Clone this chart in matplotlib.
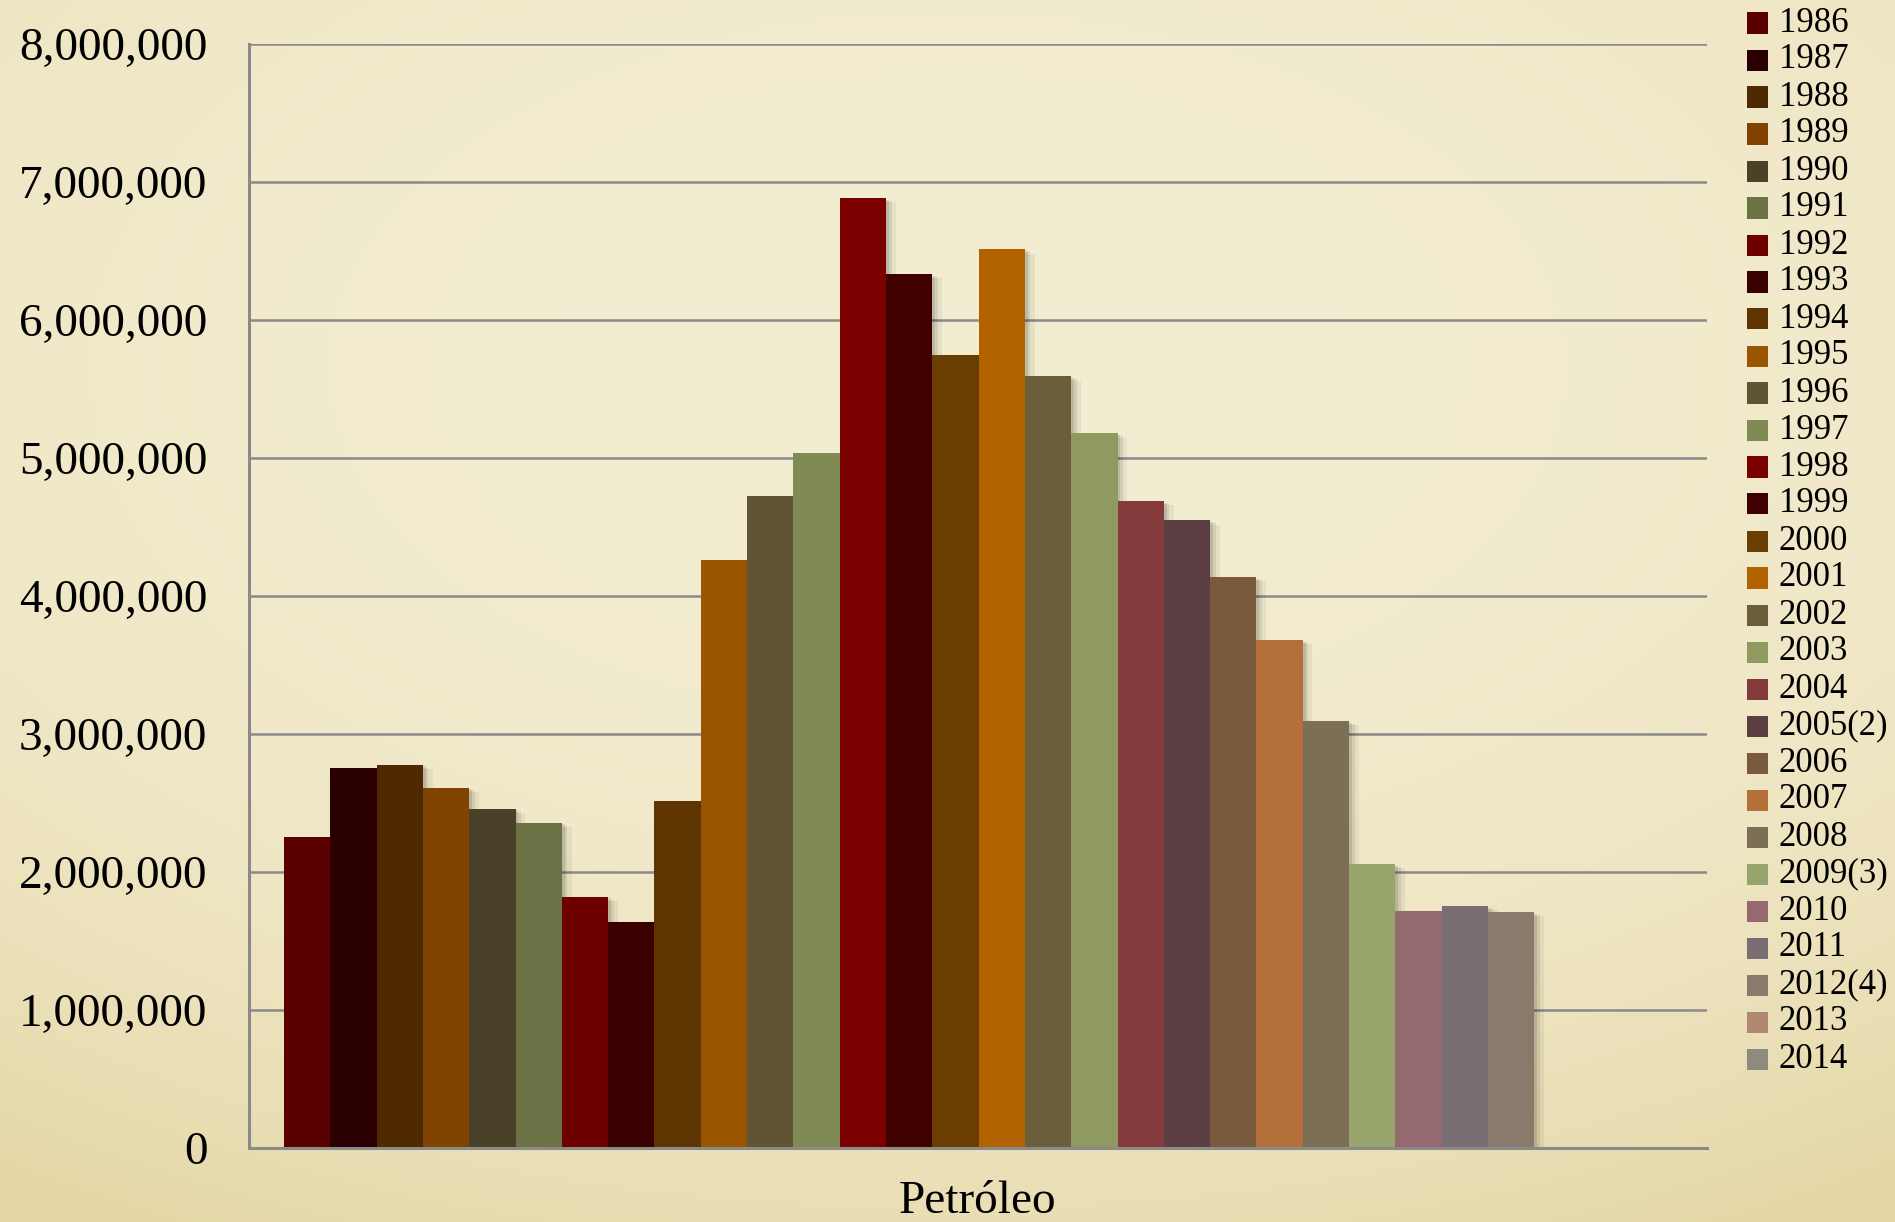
import numpy as np
import matplotlib
matplotlib.use("Agg")
import matplotlib.pyplot as plt
from matplotlib import patheffects as pe
from matplotlib.patches import Rectangle
from matplotlib.ticker import FuncFormatter

# data
years = ["1986", "1987", "1988", "1989", "1990", "1991", "1992", "1993", "1994",
         "1995", "1996", "1997", "1998", "1999", "2000", "2001", "2002", "2003",
         "2004", "2005(2)", "2006", "2007", "2008", "2009(3)", "2010", "2011",
         "2012(4)", "2013", "2014"]
values = [2255000, 2756000, 2777000, 2611000, 2458000, 2357000, 1820000, 1639000,
          2516000, 4259000, 4722000, 5034000, 6882000, 6331000, 5743000, 6512000,
          5591000, 5178000, 4686000, 4548000, 4136000, 3679000, 3092000, 2056000,
          1716000, 1752000, 1709000, np.nan, np.nan]
colors = ["#5a0000", "#2a0000", "#4f2a00", "#804300", "#4a4228", "#6b7346",
          "#6e0000", "#3a0000", "#5e3500", "#9a5500", "#5f5534", "#7f8a55",
          "#7a0000", "#400000", "#6a3d00", "#b36200", "#6b5e3a", "#8e9a5f",
          "#853a3c", "#5a3e42", "#7a5a3c", "#b5703a", "#7b7055", "#97a46c",
          "#946970", "#786e74", "#8a7a6c", "#b08872", "#8e8a80"]
category = "Petróleo"
y_ticks = [0, 1000000, 2000000, 3000000, 4000000, 5000000, 6000000, 7000000, 8000000]

plt.rcParams['font.family'] = ['Liberation Serif', 'DejaVu Serif']

W, H = 1895, 1222
fig = plt.figure(figsize=(W / 100, H / 100), dpi=100)

# parchment-like background
bg = fig.add_axes([0, 0, 1, 1])
ny, nx = 244, 379
yy, xx = np.mgrid[0:1:ny * 1j, 0:1:nx * 1j]
t = ((xx - 0.5) / 0.9) ** 2 + ((yy - 0.3) / 0.8) ** 2
t = np.clip(t, 0, 1) ** 1.3
light = np.array([243, 237, 209]) / 255
dark = np.array([229, 215, 167]) / 255
img = light[None, None, :] * (1 - t[..., None]) + dark[None, None, :] * t[..., None]
bg.imshow(img, extent=[0, 1, 0, 1], aspect='auto', interpolation='bilinear')
bg.set_axis_off()

ax = fig.add_axes([249 / W, (H - 1148) / H, (1707 - 249) / W, (1148 - 44) / H])
ax.patch.set_alpha(0)

x = np.arange(len(years))
bars = ax.bar(x, values, width=1.0, color=colors, zorder=3)
for b in bars:
    b.set_path_effects([
        pe.SimplePatchShadow(offset=(7, -3), shadow_rgbFace='k', alpha=0.05),
        pe.SimplePatchShadow(offset=(4, -2), shadow_rgbFace='k', alpha=0.08),
        pe.SimplePatchShadow(offset=(2, -1), shadow_rgbFace='k', alpha=0.10),
        pe.Normal()])

ax.set_xlim(-1.256, 30.23)
ax.set_ylim(0, 8000000)
ax.set_xticks([])
ax.set_yticks(y_ticks)
ax.yaxis.set_major_formatter(FuncFormatter(lambda v, p: f"{int(v):,}"))
ax.tick_params(axis='y', length=0, pad=30, labelsize=34)
ax.yaxis.grid(True, color='#8a8a8a', linewidth=1.8)
ax.set_axisbelow(True)
for s in ['top', 'right']:
    ax.spines[s].set_visible(False)
for s in ['left', 'bottom']:
    ax.spines[s].set_color('#8a8a8a')
    ax.spines[s].set_linewidth(2.2)
    ax.spines[s].set_zorder(4)

fig.text(978 / W, (H - 1213) / H, category, ha='center', va='baseline', fontsize=34)

# legend column on the right
for i, (lab, col) in enumerate(zip(years, colors)):
    yc = 23 + 37 * i
    fig.patches.append(Rectangle((1747 / W, (H - yc - 10.5) / H), 21 / W, 21 / H,
                                 transform=fig.transFigure, facecolor=col,
                                 edgecolor='none'))
    fig.text(1779 / W, (H - yc) / H, lab, ha='left', va='center', fontsize=25)

plt.savefig("out.png", dpi=100)
